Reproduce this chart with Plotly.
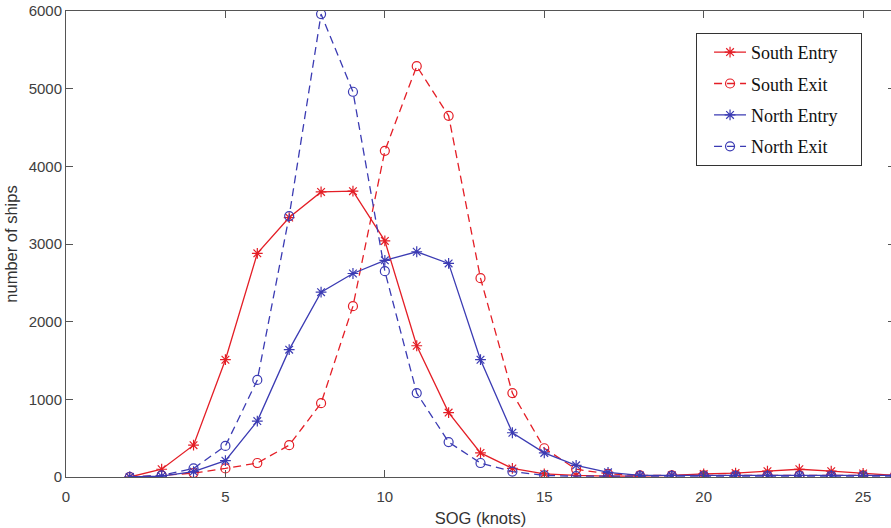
import plotly.graph_objects as go

sog = list(range(2, 27))
south_entry = [0, 100, 410, 1510, 2880, 3340, 3670, 3680, 3040, 1690, 830, 310, 110, 40, 20,
               10, 10, 20, 40, 50, 75, 100, 75, 45, 20]
south_exit = [0, 20, 50, 110, 180, 410, 950, 2200, 4200, 5290, 4650, 2560, 1080, 370, 100,
              40, 20, 20, 20, 20, 20, 20, 20, 20, 20]
north_entry = [0, 10, 70, 210, 720, 1640, 2380, 2620, 2790, 2900, 2750, 1510, 570, 310, 150,
               60, 20, 20, 20, 20, 20, 20, 20, 20, 20]
north_exit = [0, 20, 110, 400, 1250, 3360, 5960, 4960, 2650, 1080, 450, 180, 70, 20, 10,
              10, 10, 10, 10, 10, 10, 10, 10, 10, 10]

x_ticks = [0, 5, 10, 15, 20, 25]
y_ticks = [0, 1000, 2000, 3000, 4000, 5000, 6000]

RED = "#e41e26"
BLUE = "#3b3bb3"
DASH = "8px,5px"

series = [
    ("South Entry", south_entry, RED, "solid", "asterisk-open"),
    ("South Exit", south_exit, RED, DASH, "circle-open"),
    ("North Entry", north_entry, BLUE, "solid", "asterisk-open"),
    ("North Exit", north_exit, BLUE, DASH, "circle-open"),
]

PAD = "\u00a0" * 4  # invisible padding to widen the legend box like the original

fig = go.Figure()
for i, (name, vals, col, dash, sym) in enumerate(series):
    fig.add_trace(go.Scatter(
        x=sog, y=vals, name=name + PAD, mode="lines+markers",
        line=dict(color=col, width=1.3, dash=dash),
        marker=dict(symbol=sym, size=9, color=col, line=dict(color=col, width=1.2)),
        legendgroup=f"g{i}",
    ))

axis_col = "#555555"
sans = "Liberation Sans, Arial, sans-serif"
tick_font = dict(family=sans, size=15, color="#404040")
title_font = dict(family=sans, size=16.5, color="#333333")

fig.update_layout(
    width=896, height=528,
    margin=dict(l=66, r=1, t=11, b=51),
    paper_bgcolor="white", plot_bgcolor="white",
    showlegend=True,
    legend=dict(
        x=0.760, y=0.953, xanchor="left", yanchor="top",
        bordercolor="#333333", borderwidth=1, bgcolor="white",
        font=dict(family="Liberation Serif, Times New Roman, serif", size=18, color="#111111"),
        tracegroupgap=5, itemwidth=32, indentation=12,
    ),
    xaxis=dict(
        range=[0, 26], tickvals=x_ticks, ticktext=[str(v) for v in x_ticks],
        showgrid=False, zeroline=False, showline=True, linecolor=axis_col, linewidth=1,
        mirror="ticks", ticks="inside", ticklen=7, tickcolor=axis_col,
        tickfont=tick_font, automargin=False, ticklabelstandoff=6,
        ticklabeloverflow="allow",
        title=dict(text="SOG (knots)", font=title_font, standoff=8),
    ),
    yaxis=dict(
        range=[0, 6000], tickvals=y_ticks, ticktext=[str(v) for v in y_ticks],
        showgrid=False, zeroline=False, showline=True, linecolor=axis_col, linewidth=1,
        mirror="ticks", ticks="inside", ticklen=7, tickcolor=axis_col,
        tickfont=tick_font, automargin=False, ticklabeloverflow="allow",
        title=dict(text="number of ships", font=title_font, standoff=6),
    ),
)

fig.write_html(
    "out.html",
    config={"displayModeBar": False},
    post_script="document.body.style.margin='0';document.body.style.overflow='hidden';",
)
